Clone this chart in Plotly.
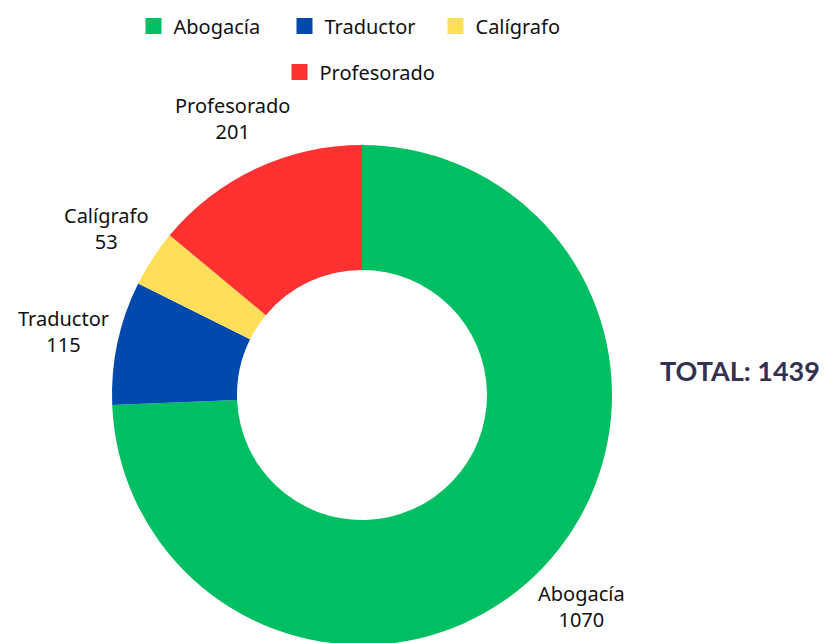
import numpy as np
import plotly.graph_objects as go

# data
labels = ["Abogacía", "Traductor", "Calígrafo", "Profesorado"]
values = [1070, 115, 53, 201]
colors = ["#00BF63", "#004AAD", "#FFDE59", "#FF3131"]
total = sum(values)

fig = go.Figure()

fig.add_trace(
    go.Pie(
        labels=labels,
        values=values,
        hole=0.5,
        sort=False,
        direction="clockwise",
        rotation=0,
        marker=dict(colors=colors, line=dict(width=0)),
        textinfo="none",
        domain=dict(x=[0, 1], y=[0, 1]),
        showlegend=False,
    )
)

# legend entries: first three in one row, the last one centred below
for i, (lab, col) in enumerate(zip(labels, colors)):
    fig.add_trace(
        go.Scatter(
            x=[None], y=[None], mode="markers", name=lab,
            marker=dict(symbol="square", size=22, color=col),
            legend="legend" if i < 3 else "legend2",
        )
    )

# outside labels at the middle angle of every slice
frac = np.array(values) / total
mid = np.cumsum(frac) - frac / 2
theta = 2 * np.pi * mid
r_lab = 0.61
for lab, v, t in zip(labels, values, theta):
    fig.add_annotation(
        x=0.5 + r_lab * np.sin(t), y=0.5 + r_lab * np.cos(t),
        xref="paper", yref="paper", xanchor="center", yanchor="middle",
        text=f"{lab}<br>{v}", showarrow=False,
        font=dict(size=20, color="#111111"),
    )

fig.add_annotation(
    x=1.42, y=0.55, xref="paper", yref="paper",
    xanchor="right", yanchor="middle",
    text="<b>TOTAL: %d</b>" % total,
    showarrow=False,
    font=dict(family="Lato", size=27, color="#35304F"),
)

fig.update_xaxes(visible=False)
fig.update_yaxes(visible=False)

fig.update_layout(
    width=827,
    height=643,
    margin=dict(l=104, r=223, t=137, b=6),
    paper_bgcolor="white",
    plot_bgcolor="white",
    font=dict(family="Noto Sans", size=20, color="#111111"),
    legend=dict(
        orientation="h",
        x=0.496, xanchor="center",
        y=0.972, yanchor="middle", yref="container",
        font=dict(size=20),
        entrywidth=106,
    ),
    legend2=dict(
        orientation="h",
        x=0.496, xanchor="center",
        y=0.9005, yanchor="middle", yref="container",
        font=dict(size=20),
    ),
)

fig.write_html("out.html")
